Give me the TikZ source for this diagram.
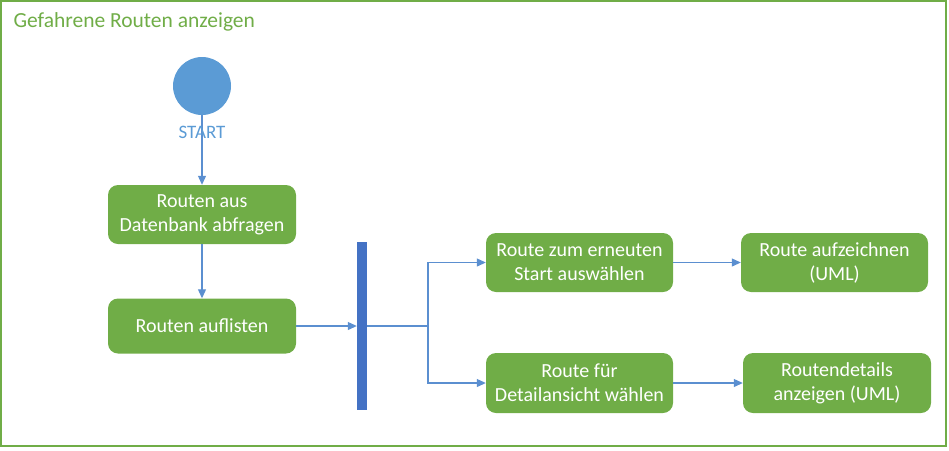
\documentclass[tikz,border=0pt]{standalone}
\usepackage{fontspec}
\setmainfont{Carlito}
\usetikzlibrary{shapes.geometric,arrows.meta,positioning}
\definecolor{actgreen}{HTML}{70AD47}
\definecolor{startblue}{HTML}{5B9BD5}
\definecolor{barblue}{HTML}{4472C4}
\definecolor{lineblue}{HTML}{5B8FD0}

\begin{document}
\begin{tikzpicture}[
    x=1pt, y=-1pt,
    action/.style={rectangle, rounded corners=10pt, fill=actgreen, text=white, align=center, inner sep=0pt, font=\fontsize{20}{24}\selectfont},
    startnode/.style={circle, fill=startblue, minimum size=58pt, inner sep=0pt},
    forkbar/.style={rectangle, fill=barblue, minimum width=10pt, minimum height=168pt, inner sep=0pt},
    arrow/.style={draw=lineblue, line width=1.1pt, -{Triangle[length=9pt,width=8pt]}},
    plain/.style={draw=lineblue, line width=1.1pt}
]
\useasboundingbox (0,0) rectangle (949,450);
\draw[actgreen, line width=1.2pt] (1,1) rectangle (946,446);
\node[anchor=west, text=actgreen, font=\fontsize{21.5}{26}\selectfont] (title) at (10,22) {Gefahrene Routen anzeigen};

% Nodes
\node (start) [startnode] at (202,86) {};
\node (fetch) [action, minimum width=188pt, minimum height=59pt] at (202,214.5) {Routen aus\\Datenbank abfragen};
\node (list) [action, minimum width=188pt, minimum height=55pt] at (202,326) {Routen auflisten};
\node (fork) [forkbar] at (362,326) {};
\coordinate (split) at (428,326);
\node (restart) [action, minimum width=187pt, minimum height=59pt] at (579.5,262.5) {Route zum erneuten\\Start auswählen};
\node (detail) [action, minimum width=187pt, minimum height=60pt] at (579.5,383) {Route für\\Detailansicht wählen};
\node (record) [action, minimum width=187pt, minimum height=59pt] at (834.5,262.5) {Route aufzeichnen\\(UML)};
\node (showdetail) [action, minimum width=188pt, minimum height=60pt] at (837,383) {Routendetails\\anzeigen (UML)};

% Arrows
\draw [arrow] (start) -- (fetch);
\node (startlabel) [text=startblue, font=\fontsize{19}{22}\selectfont] at (202,132) {START};
\draw [arrow] (fetch) -- (list);
\draw [arrow] (list) -- (fork);
\draw [plain] (fork) -- (split);
\draw [arrow] (split) |- (restart);
\draw [arrow] (split) |- (detail);
\draw [arrow] (restart) -- (record);
\draw [arrow] (detail) -- (detail -| showdetail.west);

\end{tikzpicture}
\end{document}
